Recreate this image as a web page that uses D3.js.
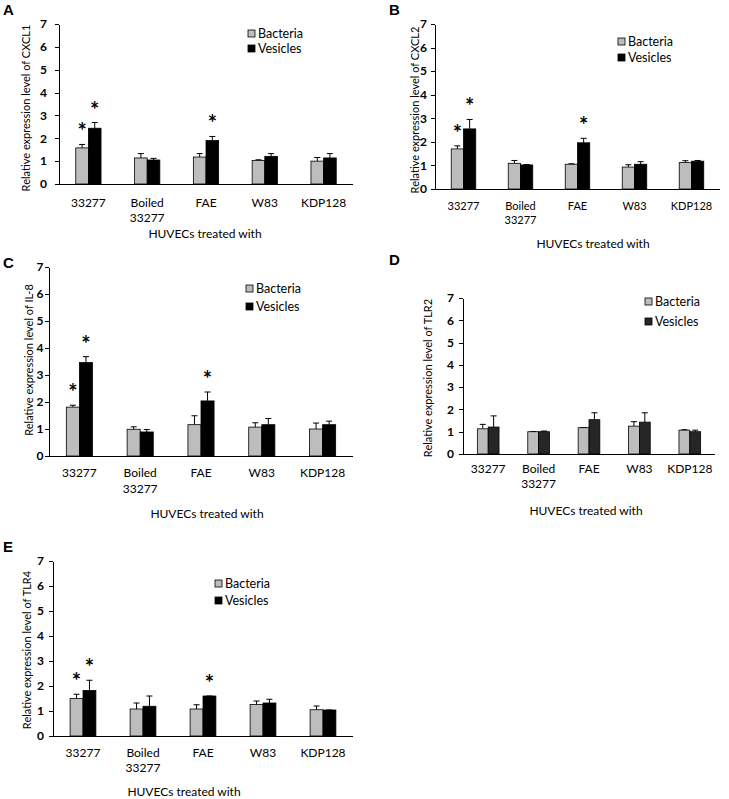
<!DOCTYPE html>
<html lang="en">
<head>
<meta charset="UTF-8">
<title>Relative expression in HUVECs</title>
<style>
  body { margin: 0; background: #fff; }
  svg text { font-family: Lato, "Open Sans", sans-serif; fill: #000; }
  .tick text { font-size: 12px; font-weight: bold; }
  .tick line, .domain { stroke: #000; shape-rendering: crispEdges; }
</style>
</head>
<body>
<svg id="fig" width="729" height="799"></svg>
<script src="https://d3js.org/d3.v7.min.js"></script>
<script>
// categories and series
var categories = [["33277"], ["Boiled", "33277"], ["FAE"], ["W83"], ["KDP128"]];
var seriesNames = ["Bacteria", "Vesicles"];
var yTicks = [0, 1, 2, 3, 4, 5, 6, 7];

// panel A - CXCL1
var cxcl1Bacteria = [1.58, 1.14, 1.18, 1.03, 1.0];
var cxcl1BacteriaErr = [1.73, 1.33, 1.33, 1.06, 1.16];
var cxcl1Vesicles = [2.44, 1.05, 1.9, 1.21, 1.14];
var cxcl1VesiclesErr = [2.69, 1.12, 2.08, 1.33, 1.33];

// panel B - CXCL2
var cxcl2Bacteria = [1.70, 1.09, 1.05, 0.93, 1.12];
var cxcl2BacteriaErr = [1.83, 1.21, 1.07, 1.03, 1.2];
var cxcl2Vesicles = [2.55, 1.02, 1.96, 1.05, 1.18];
var cxcl2VesiclesErr = [2.95, 1.04, 2.15, 1.16, 1.21];

// panel C - IL-8
var il8Bacteria = [1.81, 0.99, 1.16, 1.07, 1.0];
var il8BacteriaErr = [1.88, 1.08, 1.49, 1.23, 1.22];
var il8Vesicles = [3.46, 0.89, 2.04, 1.16, 1.16];
var il8VesiclesErr = [3.68, 0.98, 2.37, 1.39, 1.29];

// panel D - TLR2
var tlr2Bacteria = [1.13, 1.0, 1.18, 1.25, 1.07];
var tlr2BacteriaErr = [1.33, 1.01, 1.19, 1.45, 1.09];
var tlr2Vesicles = [1.21, 1.0, 1.54, 1.43, 1.0];
var tlr2VesiclesErr = [1.71, 1.03, 1.85, 1.85, 1.07];

// panel E - TLR4
var tlr4Bacteria = [1.5, 1.08, 1.08, 1.26, 1.05];
var tlr4BacteriaErr = [1.67, 1.32, 1.25, 1.4, 1.2];
var tlr4Vesicles = [1.82, 1.19, 1.6, 1.32, 1.04];
var tlr4VesiclesErr = [2.23, 1.6, 1.6, 1.47, 1.04];

// significance marks (1 = asterisk)
var starsBacteria = [1, 0, 0, 0, 0];
var starsVesicles = [1, 0, 1, 0, 0];

var panels = [
  { letter: "A", gene: "CXCL1", bac: cxcl1Bacteria, bacErr: cxcl1BacteriaErr, ves: cxcl1Vesicles, vesErr: cxcl1VesiclesErr, stars: true,
    x0: 59, x1: 353, yTop: 24, y0: 184, pad: 8, lx: 3, ly: 15, ytx: 26, yty: 108, tx: 205, lab: [23, 38, 54], labSize: 12,
    leg: { x: 248, y: 30, gap: 15 }, vesColor: "#000" },
  { letter: "B", gene: "CXCL2", bac: cxcl2Bacteria, bacErr: cxcl2BacteriaErr, ves: cxcl2Vesicles, vesErr: cxcl2VesiclesErr, stars: true,
    x0: 435, x1: 720, yTop: 24, y0: 189, pad: 4, lx: 389, ly: 15, ytx: 415, yty: 110, tx: 593, lab: [20.5, 34.5, 59], labSize: 11,
    leg: { x: 618, y: 38, gap: 16 }, vesColor: "#000" },
  { letter: "C", gene: "IL-8", bac: il8Bacteria, bacErr: il8BacteriaErr, ves: il8Vesicles, vesErr: il8VesiclesErr, stars: true,
    x0: 49, x1: 353, yTop: 267, y0: 456, pad: 1.5, lx: 3, ly: 268, ytx: 29, yty: 360, tx: 207, lab: [21, 37, 62], labSize: 12,
    leg: { x: 246, y: 285, gap: 18 }, vesColor: "#000" },
  { letter: "D", gene: "TLR2", bac: tlr2Bacteria, bacErr: tlr2BacteriaErr, ves: tlr2Vesicles, vesErr: tlr2VesiclesErr, stars: false,
    x0: 463, x1: 715, yTop: 298, y0: 454, pad: 5, lx: 389, ly: 265, ytx: 428, yty: 378, tx: 586, lab: [19, 34, 61], labSize: 12,
    leg: { x: 645, y: 298, gap: 20 }, vesColor: "#262626" },
  { letter: "E", gene: "TLR4", bac: tlr4Bacteria, bacErr: tlr4BacteriaErr, ves: tlr4Vesicles, vesErr: tlr4VesiclesErr, stars: true,
    x0: 53, x1: 353, yTop: 561, y0: 736, pad: 5, lx: 3, ly: 552, ytx: 27, yty: 650, tx: 184, lab: [21, 36, 60], labSize: 12,
    leg: { x: 215, y: 580, gap: 17 }, vesColor: "#000" }
];

var bacColor = "#bdbdbd";
var svg = d3.select("#fig");

panels.forEach(function(p) {
  var g = svg.append("g");

  var x = d3.scaleBand()
    .domain(d3.range(categories.length))
    .range([p.x0, p.x1]);
  var barW = x.step() * 0.215;

  var y = d3.scaleLinear()
    .domain([0, 7])
    .range([p.y0, p.yTop]);

  // y axis
  g.append("g")
    .attr("transform", "translate(" + p.x0 + ",0)")
    .call(d3.axisLeft(y).tickValues(yTicks).tickFormat(d3.format("d"))
      .tickSize(4).tickPadding(p.pad).tickSizeOuter(0));

  // x baseline
  g.append("line")
    .attr("x1", p.x0).attr("x2", p.x1)
    .attr("y1", y(0)).attr("y2", y(0))
    .attr("stroke", "#000")
    .attr("shape-rendering", "crispEdges");

  var rows = [];
  categories.forEach(function(c, i) {
    rows.push({ i: i, s: 0, v: p.bac[i], e: p.bacErr[i], star: starsBacteria[i] });
    rows.push({ i: i, s: 1, v: p.ves[i], e: p.vesErr[i], star: starsVesicles[i] });
  });
  function bx(d) {
    return x(d.i) + x.bandwidth() / 2 + (d.s === 0 ? -barW : 0);
  }

  // error bars (upper only)
  g.selectAll(".err").data(rows).enter().append("path")
    .attr("fill", "none").attr("stroke", "#000").attr("stroke-width", 1)
    .attr("d", function(d) {
      var cx = bx(d) + barW / 2;
      return "M" + cx + "," + y(d.v) + "V" + y(d.e) + "M" + (cx - 3) + "," + y(d.e) + "H" + (cx + 3);
    });

  g.selectAll(".bar").data(rows).enter().append("rect")
    .attr("x", bx)
    .attr("y", function(d) { return y(d.v); })
    .attr("width", barW)
    .attr("height", function(d) { return y(0) - y(d.v); })
    .attr("fill", function(d) { return d.s === 0 ? bacColor : p.vesColor; })
    .attr("stroke", "#000")
    .attr("stroke-width", 0.8);

  if (p.stars) {
    g.selectAll(".star").data(rows.filter(function(d) { return d.star; })).enter().append("text")
      .attr("x", function(d) { return bx(d) + barW / 2; })
      .attr("y", function(d) { return y(d.e) - 5; })
      .attr("text-anchor", "middle")
      .style("font-size", "22px")
      .style("font-weight", "bold")
      .text("*");
  }

  // category labels
  categories.forEach(function(c, i) {
    c.forEach(function(line, k) {
      g.append("text")
        .attr("x", x(i) + x.bandwidth() / 2)
        .attr("y", p.y0 + p.lab[k])
        .attr("text-anchor", "middle")
        .style("font-size", p.labSize + "px")
        .text(line);
    });
  });

  g.append("text")
    .attr("x", p.tx).attr("y", p.y0 + p.lab[2])
    .attr("text-anchor", "middle")
    .style("font-size", "12px")
    .text("HUVECs treated with");

  g.append("text")
    .attr("transform", "translate(" + p.ytx + "," + p.yty + ") rotate(-90)")
    .attr("dy", "0.35em")
    .attr("text-anchor", "middle")
    .style("font-size", "11px")
    .text("Relative expression level of " + p.gene);

  g.append("text")
    .attr("x", p.lx).attr("y", p.ly)
    .style("font-family", "'Liberation Sans', Arial, sans-serif")
    .style("font-size", "15px")
    .style("font-weight", "bold")
    .text(p.letter);

  // legend
  var leg = g.selectAll(".leg").data(seriesNames).enter().append("g")
    .attr("transform", function(d, k) { return "translate(" + p.leg.x + "," + (p.leg.y + k * p.leg.gap) + ")"; });
  leg.append("rect")
    .attr("width", 7).attr("height", 7)
    .attr("fill", function(d, k) { return k === 0 ? bacColor : p.vesColor; })
    .attr("stroke", "#000").attr("stroke-width", 0.8);
  leg.append("text")
    .attr("x", 10).attr("y", 7.5)
    .style("font-size", "12.5px")
    .text(function(d) { return d; });
});
</script>
</body>
</html>
